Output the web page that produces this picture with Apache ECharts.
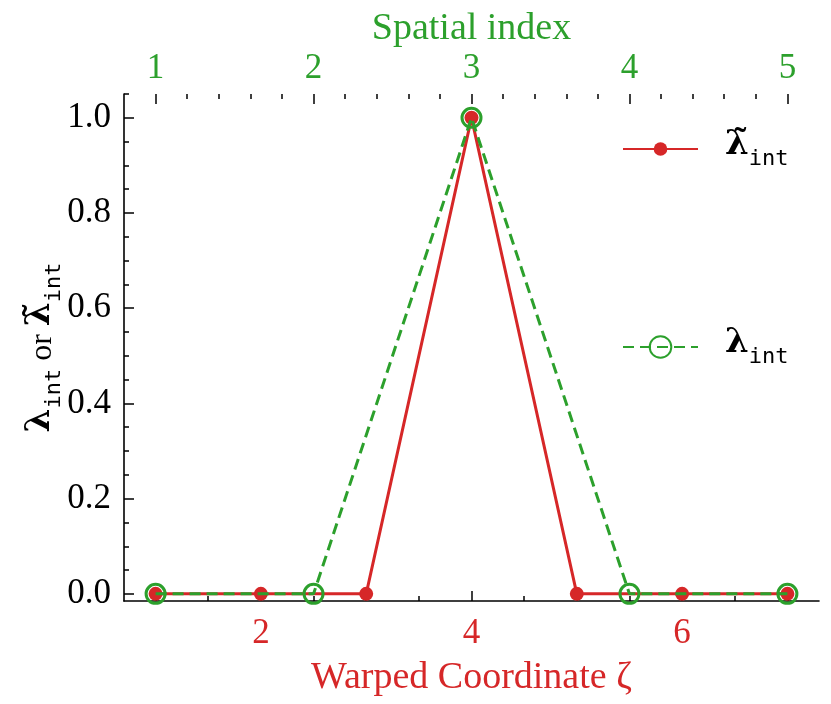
<!DOCTYPE html>
<html>
<head>
<meta charset="utf-8">
<script src="https://cdn.jsdelivr.net/npm/echarts@6/dist/echarts.min.js"></script>
<style>html,body{margin:0;padding:0;background:#fff}#c{width:831px;height:704px}</style>
</head>
<body>
<div id="c"></div>
<script>
// ---- data ----
const zeta = [1, 2, 3, 4, 5, 6, 7];
const lambdaTilde = [0, 0, 0, 1, 0, 0, 0];
const spatialIndex = [1, 2, 3, 4, 5];
const lambdaInt = [0, 0, 1, 0, 0];
const zetaMajorTicks = [2, 4, 6];
const zetaMinorTicks = [1, 1.5, 2.5, 3, 3.5, 4.5, 5, 5.5, 6.5, 7];
const spatialMajorTicks = [1, 2, 3, 4, 5];
const spatialMinorTicks = [1.2, 1.4, 1.6, 1.8, 2.2, 2.4, 2.6, 2.8, 3.2, 3.4, 3.6, 3.8, 4.2, 4.4, 4.6, 4.8];
const yMajorTicks = [0, 0.2, 0.4, 0.6, 0.8, 1.0];
const yMinorTicks = [0.05, 0.1, 0.15, 0.25, 0.3, 0.35, 0.45, 0.5, 0.55, 0.65, 0.7, 0.75, 0.85, 0.9, 0.95, 1.05];

const RED = '#d62728', GREEN = '#2ca02c';
const SERIF = 'Liberation Serif';
const MONO = 'DejaVu Sans Mono';
const chart = echarts.init(document.getElementById('c'));

const subRich = {
  a: {fontFamily: 'DejaVu Serif', fontWeight: 'bold', fontSize: 34, color: '#000', verticalAlign: 'bottom', padding: [0, 0, 8, 0]},
  b: {fontFamily: MONO, fontSize: 22, color: '#000', verticalAlign: 'bottom'},
  c: {fontFamily: SERIF, fontSize: 32, color: '#000', verticalAlign: 'bottom', padding: [0, 0, 6, 0]}
};

const ZMIN = 0.7, ZMAX = 7.3, SMIN = 0.8, SMAX = 5.2, YMIN = -0.015, YMAX = 1.05;

function minorAxis(pos, min, max, ticks) {
  return {
    type: 'value', position: pos, min: min, max: max,
    axisLine: {show: false, onZero: false},
    axisTick: {show: true, inside: true, length: 5, customValues: ticks, lineStyle: {color: '#000', width: 1.5}},
    axisLabel: {show: false}, splitLine: {show: false}
  };
}

chart.setOption({
  animation: false,
  backgroundColor: '#fff',
  grid: {left: 124, right: 12, top: 94, bottom: 103, containLabel: false, outerBoundsMode: 'none'},
  xAxis: [
    {
      type: 'value', position: 'bottom', min: ZMIN, max: ZMAX,
      axisLine: {show: true, onZero: false, lineStyle: {color: '#000', width: 1.6}},
      axisTick: {show: true, inside: true, length: 10, customValues: zetaMajorTicks, lineStyle: {color: '#000', width: 1.5}},
      axisLabel: {customValues: zetaMajorTicks, color: RED, fontFamily: SERIF, fontSize: 35, margin: 15},
      splitLine: {show: false},
      name: 'Warped Coordinate ζ', nameLocation: 'middle', nameGap: 58, nameMoveOverlap: false,
      nameTextStyle: {color: RED, fontFamily: SERIF, fontSize: 38}
    },
    minorAxis('bottom', ZMIN, ZMAX, zetaMinorTicks),
    {
      type: 'value', position: 'top', min: SMIN, max: SMAX,
      axisLine: {show: false, onZero: false},
      axisTick: {show: true, inside: true, length: 10, customValues: spatialMajorTicks, lineStyle: {color: '#000', width: 1.5}},
      axisLabel: {customValues: spatialMajorTicks, color: GREEN, fontFamily: SERIF, fontSize: 35, margin: 8},
      splitLine: {show: false},
      name: 'Spatial index', nameLocation: 'middle', nameGap: 46, nameMoveOverlap: false,
      nameTextStyle: {color: GREEN, fontFamily: SERIF, fontSize: 38}
    },
    minorAxis('top', SMIN, SMAX, spatialMinorTicks)
  ],
  yAxis: [
    {
      type: 'value', position: 'left', min: YMIN, max: YMAX,
      axisLine: {show: true, onZero: false, lineStyle: {color: '#000', width: 1.6}},
      axisTick: {show: true, inside: true, length: 10, customValues: yMajorTicks, lineStyle: {color: '#000', width: 1.5}},
      axisLabel: {customValues: yMajorTicks, color: '#000', fontFamily: SERIF, fontSize: 35, margin: 13,
        formatter: v => v.toFixed(1)},
      splitLine: {show: false},
      name: '{a|λ}{b|int}{c| or }{a|λ̃}{b|int}', nameLocation: 'middle', nameGap: 59, nameRotate: 90,
      nameMoveOverlap: false,
      nameTextStyle: {rich: subRich}
    },
    minorAxis('left', YMIN, YMAX, yMinorTicks)
  ],
  legend: [
    {
      data: ['lt'], orient: 'vertical', left: 617, top: 123,
      itemWidth: 75, itemHeight: 17,
      formatter: () => '{a|λ̃}{b|int}',
      textStyle: {rich: subRich, padding: [0, 0, 0, 22]}
    },
    {
      data: ['l'], orient: 'vertical', left: 617, top: 321,
      itemWidth: 75, itemHeight: 27,
      formatter: () => '{a|λ}{b|int}',
      textStyle: {rich: subRich, padding: [0, 0, 0, 22]}
    }
  ],
  series: [
    {
      name: 'lt', type: 'line', xAxisIndex: 0, yAxisIndex: 0,
      data: zeta.map((z, i) => [z, lambdaTilde[i]]),
      symbol: 'circle', symbolSize: 14,
      lineStyle: {color: RED, width: 3},
      itemStyle: {color: RED},
      z: 2
    },
    {
      name: 'l', type: 'line', xAxisIndex: 2, yAxisIndex: 0,
      data: spatialIndex.map((s, i) => [s, lambdaInt[i]]),
      symbol: 'circle', symbolSize: 19,
      lineStyle: {color: GREEN, width: 3, type: [11, 6]},
      itemStyle: {color: 'rgba(0,0,0,0)', borderColor: GREEN, borderWidth: 3},
      z: 3
    }
  ]
});
</script>
</body>
</html>
